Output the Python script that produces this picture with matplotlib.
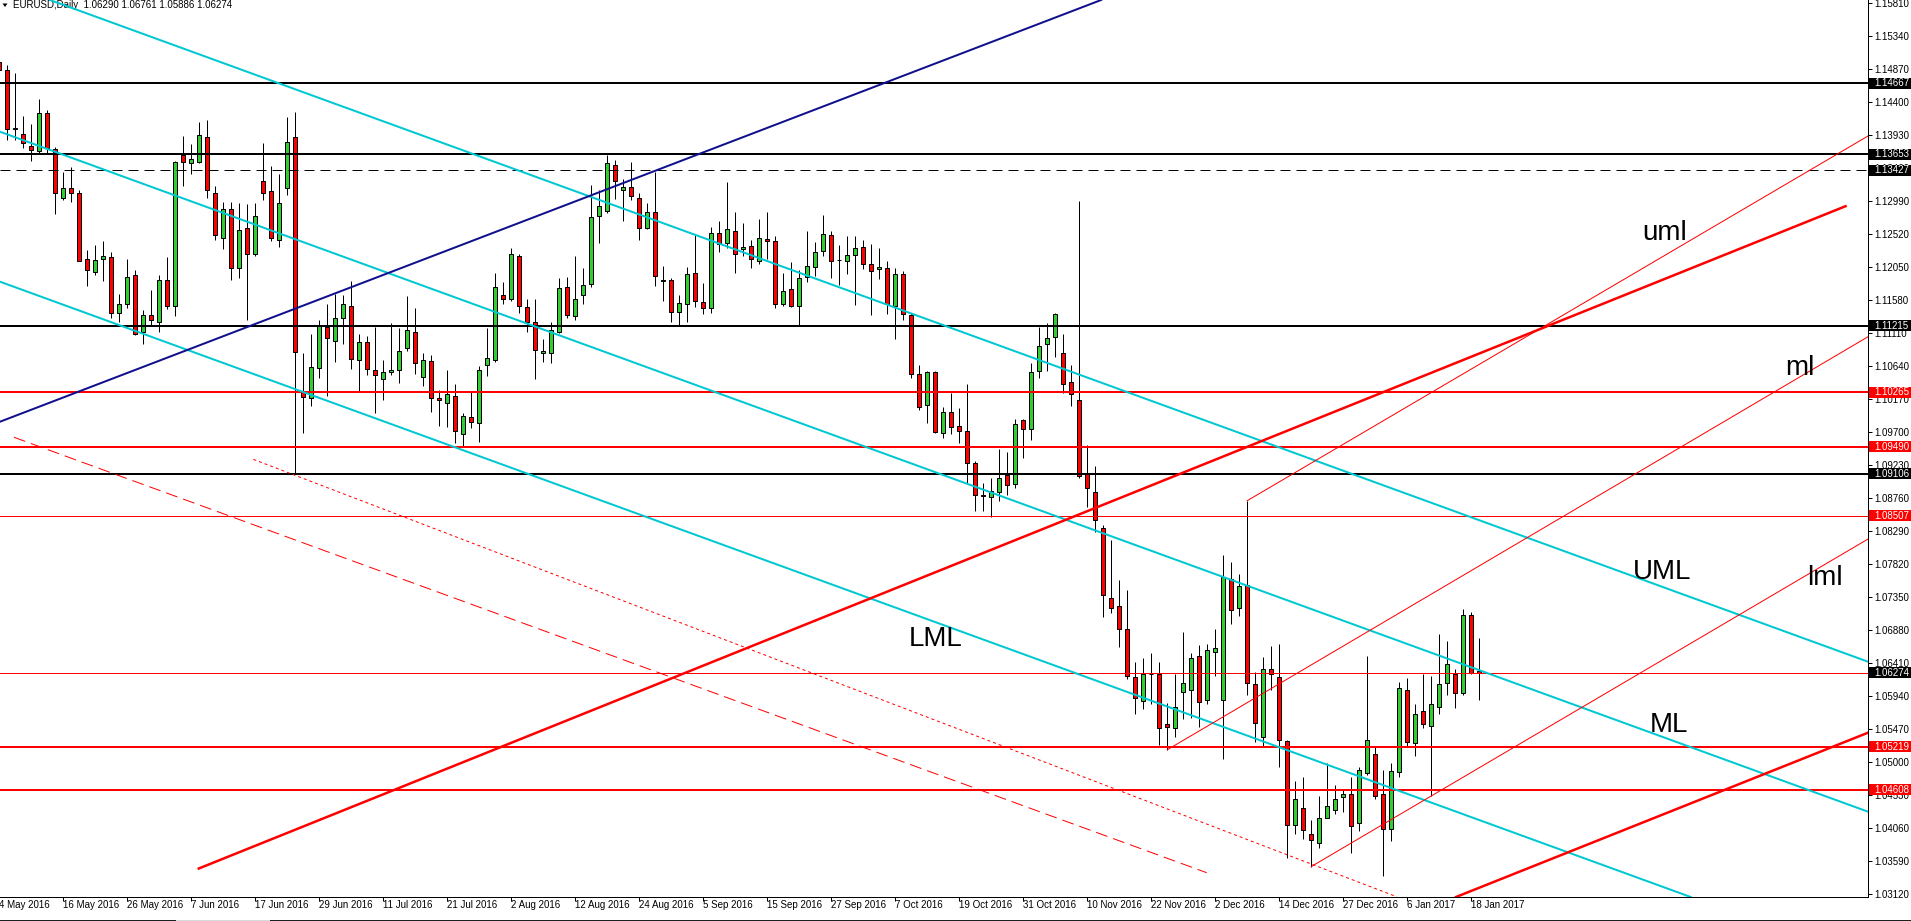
import matplotlib
matplotlib.use("Agg")
import matplotlib.pyplot as plt
import matplotlib.transforms as mtransforms
from matplotlib.patches import Rectangle, Polygon
from matplotlib.lines import Line2D

plt.rcParams['lines.scale_dashes'] = False
plt.rcParams['font.family'] = ['Liberation Sans', 'DejaVu Sans']

W, H, DPI = 1911, 921, 100
PX = 72.0 / DPI  # one pixel in points

# ---------------- data ----------------
header = "EURUSD,Daily  1.06290 1.06761 1.05886 1.06274"

opens = [1.1497, 1.1485, 1.1402, 1.1394, 1.1378, 1.1370, 1.1424, 1.1373, 1.1303, 1.1317,
         1.1310, 1.1216, 1.1198, 1.1216, 1.1219, 1.1140, 1.1153, 1.1193, 1.1112, 1.1137,
         1.1127, 1.1186, 1.1150, 1.1364, 1.1353, 1.1355, 1.1390, 1.1310, 1.1247, 1.1288,
         1.1204, 1.1260, 1.1224, 1.1327, 1.1313, 1.1244, 1.1318, 1.1390, 1.1028, 1.1018,
         1.1061, 1.1120, 1.1100, 1.1132, 1.1150, 1.1072, 1.1098, 1.1059, 1.1045, 1.1055,
         1.1059, 1.1089, 1.1113, 1.1048, 1.1071, 1.1018, 1.1012, 1.1022, 1.0967, 1.0991,
         1.0983, 1.1066, 1.1072, 1.1165, 1.1159, 1.1221, 1.1148, 1.1126, 1.1083, 1.1082,
         1.1113, 1.1177, 1.1135, 1.1165, 1.1181, 1.1278, 1.1285, 1.1350, 1.1314, 1.1319,
         1.1304, 1.1261, 1.1283, 1.1185, 1.1187, 1.1141, 1.1153, 1.1196, 1.1155, 1.1146,
         1.1253, 1.1239, 1.1256, 1.1230, 1.1235, 1.1214, 1.1245, 1.1242, 1.1153, 1.1173,
         1.1150, 1.1191, 1.1205, 1.1228, 1.1250, 1.1215, 1.1214, 1.1222, 1.1234, 1.1210,
         1.1202, 1.1203, 1.1149, 1.1195, 1.1137, 1.1052, 1.1009, 1.1056, 1.0968, 1.0998,
         1.0978, 1.0972, 1.0926, 1.0880, 1.0877, 1.0885, 1.0909, 1.0896, 1.0987, 1.0975,
         1.1057, 1.1095, 1.1105, 1.1083, 1.1041, 1.1016, 1.0910, 1.0885, 1.0834, 1.0734,
         1.0722, 1.0689, 1.0621, 1.0587, 1.0625, 1.0626, 1.0554, 1.0549, 1.0600, 1.0602,
         1.0651, 1.0589, 1.0657, 1.0589, 1.0760, 1.0719, 1.0752, 1.0611, 1.0535, 1.0632,
         1.0621, 1.0530, 1.0410, 1.0434, 1.0398, 1.0384, 1.0421, 1.0432, 1.0450, 1.0455,
         1.0413, 1.0485, 1.0512, 1.0454, 1.0404, 1.0486, 1.0603, 1.0527, 1.0573, 1.0552,
         1.0579, 1.0612, 1.0626, 1.0599, 1.0709, 1.06290]
highs = [1.1525, 1.1493, 1.1481, 1.1420, 1.1409, 1.1445, 1.1429, 1.1376, 1.1341, 1.1347,
         1.1315, 1.1229, 1.1236, 1.1242, 1.1226, 1.1166, 1.1216, 1.1201, 1.1144, 1.1172,
         1.1193, 1.1219, 1.1356, 1.1392, 1.1380, 1.1411, 1.1414, 1.1321, 1.1297, 1.1297,
         1.1296, 1.1295, 1.1296, 1.1381, 1.1349, 1.1338, 1.1419, 1.1426, 1.1082, 1.1110,
         1.1129, 1.1153, 1.1166, 1.1165, 1.1185, 1.1110, 1.1107, 1.1120, 1.1073, 1.1125,
         1.1118, 1.1164, 1.1146, 1.1083, 1.1079, 1.1030, 1.1058, 1.1039, 1.0997, 1.1028,
         1.1064, 1.1118, 1.1196, 1.1183, 1.1232, 1.1224, 1.1160, 1.1160, 1.1103, 1.1126,
         1.1189, 1.1191, 1.1221, 1.1204, 1.1322, 1.1315, 1.1365, 1.1358, 1.1330, 1.1355,
         1.1310, 1.1296, 1.1341, 1.1206, 1.1190, 1.1165, 1.1205, 1.1251, 1.1182, 1.1262,
         1.1271, 1.1326, 1.1283, 1.1267, 1.1243, 1.1273, 1.1283, 1.1249, 1.1196, 1.1212,
         1.1201, 1.1256, 1.1240, 1.1279, 1.1257, 1.1236, 1.1249, 1.1249, 1.1243, 1.1238,
         1.1232, 1.1213, 1.1203, 1.1199, 1.1140, 1.1066, 1.1057, 1.1057, 1.1006, 1.1025,
         1.1004, 1.1038, 1.0929, 1.0898, 1.0904, 1.0946, 1.0941, 1.0989, 1.0989, 1.1068,
         1.1120, 1.1125, 1.1139, 1.1109, 1.1066, 1.1299, 1.0952, 1.0922, 1.0838, 1.0816,
         1.0759, 1.0745, 1.0642, 1.0648, 1.0656, 1.0642, 1.0584, 1.0626, 1.0685, 1.0655,
         1.0666, 1.0668, 1.0689, 1.0795, 1.0785, 1.0768, 1.0872, 1.0628, 1.0650, 1.0665,
         1.0668, 1.0531, 1.0473, 1.0478, 1.0417, 1.0451, 1.0498, 1.0467, 1.0461, 1.0479,
         1.0493, 1.0651, 1.0522, 1.0489, 1.0498, 1.0614, 1.0619, 1.0583, 1.0626, 1.0622,
         1.0683, 1.0672, 1.0633, 1.0718, 1.0713, 1.06761]
lows = [1.1465, 1.1386, 1.1386, 1.1374, 1.1356, 1.1367, 1.1367, 1.1281, 1.1301, 1.1298,
        1.1213, 1.1178, 1.1194, 1.1185, 1.1132, 1.1127, 1.1147, 1.1108, 1.1096, 1.1122,
        1.1113, 1.1145, 1.1135, 1.1321, 1.1337, 1.1353, 1.1304, 1.1244, 1.1230, 1.1187,
        1.1189, 1.1130, 1.1221, 1.1300, 1.1242, 1.1234, 1.1307, 1.0911, 1.0969, 1.1007,
        1.1047, 1.1021, 1.1070, 1.1096, 1.1060, 1.1027, 1.1051, 1.0997, 1.1015, 1.1051,
        1.1040, 1.1086, 1.1052, 1.1036, 1.0999, 1.0978, 1.0977, 1.0954, 1.0950, 1.0976,
        1.0956, 1.1050, 1.1070, 1.1152, 1.1156, 1.1139, 1.1113, 1.1045, 1.1070, 1.1069,
        1.1111, 1.1133, 1.1129, 1.1153, 1.1177, 1.1239, 1.1282, 1.1302, 1.1270, 1.1301,
        1.1244, 1.1259, 1.1178, 1.1157, 1.1127, 1.1122, 1.1126, 1.1148, 1.1138, 1.1139,
        1.1227, 1.1232, 1.1197, 1.1220, 1.1203, 1.1210, 1.1216, 1.1147, 1.1149, 1.1148,
        1.1121, 1.1183, 1.1192, 1.1220, 1.1190, 1.1179, 1.1195, 1.1151, 1.1202, 1.1136,
        1.1188, 1.1138, 1.1103, 1.1129, 1.1047, 1.1001, 1.0983, 1.0969, 1.0962, 1.0967,
        1.0954, 1.0898, 1.0858, 1.0858, 1.0849, 1.0872, 1.0880, 1.0891, 1.0933, 1.0958,
        1.1047, 1.1057, 1.1077, 1.1026, 1.1007, 1.0905, 1.0863, 1.0828, 1.0707, 1.0712,
        1.0664, 1.0618, 1.0568, 1.0575, 1.0582, 1.0524, 1.0517, 1.0536, 1.0562, 1.0563,
        1.0550, 1.0583, 1.0622, 1.0504, 1.0697, 1.0708, 1.0596, 1.0529, 1.0523, 1.0602,
        1.0493, 1.0364, 1.0398, 1.0391, 1.0351, 1.0377, 1.0421, 1.0426, 1.0429, 1.0371,
        1.0402, 1.0481, 1.0448, 1.0337, 1.0387, 1.0478, 1.0522, 1.0508, 1.0548, 1.0451,
        1.0569, 1.0595, 1.0577, 1.0595, 1.0626, 1.05886]
closes = [1.1486, 1.1402, 1.1403, 1.1381, 1.1371, 1.1425, 1.1375, 1.1310, 1.1318, 1.1310,
          1.1214, 1.1201, 1.1215, 1.1220, 1.1139, 1.1153, 1.1191, 1.1110, 1.1136, 1.1130,
          1.1186, 1.1150, 1.1354, 1.1354, 1.1359, 1.1393, 1.1315, 1.1251, 1.1288, 1.1204,
          1.1258, 1.1224, 1.1278, 1.1311, 1.1246, 1.1296, 1.1383, 1.1084, 1.1020, 1.1063,
          1.1121, 1.1104, 1.1133, 1.1152, 1.1074, 1.1098, 1.1060, 1.1051, 1.1055, 1.1059,
          1.1086, 1.1116, 1.1068, 1.1073, 1.1019, 1.1015, 1.1024, 1.0972, 1.0993, 1.0984,
          1.1058, 1.1075, 1.1177, 1.1160, 1.1223, 1.1149, 1.1127, 1.1087, 1.1086, 1.1116,
          1.1175, 1.1137, 1.1160, 1.1180, 1.1276, 1.1292, 1.1353, 1.1327, 1.1319, 1.1306,
          1.1261, 1.1283, 1.1192, 1.1187, 1.1141, 1.1154, 1.1195, 1.1157, 1.1147, 1.1254,
          1.1238, 1.1259, 1.1224, 1.1233, 1.1217, 1.1247, 1.1242, 1.1152, 1.1171, 1.1149,
          1.1189, 1.1207, 1.1226, 1.1252, 1.1214, 1.1215, 1.1222, 1.1232, 1.1209, 1.1200,
          1.1205, 1.1152, 1.1195, 1.1138, 1.1052, 1.1005, 1.1055, 1.0970, 1.0998, 1.0977,
          1.0972, 1.0926, 1.0880, 1.0879, 1.0886, 1.0905, 1.0894, 1.0981, 1.0975, 1.1056,
          1.1093, 1.1104, 1.1138, 1.1039, 1.1024, 1.0907, 1.0891, 1.0845, 1.0738, 1.0720,
          1.0689, 1.0622, 1.0591, 1.0626, 1.0625, 1.0548, 1.0550, 1.0579, 1.0613, 1.0648,
          1.0586, 1.0659, 1.0663, 1.0763, 1.0716, 1.0751, 1.0613, 1.0555, 1.0633, 1.0625,
          1.0532, 1.0411, 1.0447, 1.0403, 1.0389, 1.0421, 1.0437, 1.0447, 1.0455, 1.0409,
          1.0488, 1.0532, 1.0452, 1.0404, 1.0487, 1.0605, 1.0529, 1.0569, 1.0554, 1.0582,
          1.0611, 1.0640, 1.0599, 1.0710, 1.0627, 1.06274]

date_tick_bars = [0, 8, 16, 24, 32, 40, 48, 56, 64, 72, 80, 88, 96, 104, 112, 120,
                  128, 136, 144, 152, 160, 168, 176, 184]
date_tick_labels = ["4 May 2016", "16 May 2016", "26 May 2016", "7 Jun 2016", "17 Jun 2016",
                    "29 Jun 2016", "11 Jul 2016", "21 Jul 2016", "2 Aug 2016", "12 Aug 2016",
                    "24 Aug 2016", "5 Sep 2016", "15 Sep 2016", "27 Sep 2016", "7 Oct 2016",
                    "19 Oct 2016", "31 Oct 2016", "10 Nov 2016", "22 Nov 2016", "2 Dec 2016",
                    "14 Dec 2016", "27 Dec 2016", "6 Jan 2017", "18 Jan 2017"]

price_ticks = [1.15810, 1.15340, 1.14870, 1.14400, 1.13930, 1.13460, 1.12990, 1.12520,
               1.12050, 1.11580, 1.11110, 1.10640, 1.10170, 1.09700, 1.09230, 1.08760,
               1.08290, 1.07820, 1.07350, 1.06880, 1.06410, 1.05940, 1.05470, 1.05000,
               1.04530, 1.04060, 1.03590, 1.03120]

level_prices = [1.14667, 1.13653, 1.13427, 1.11215, 1.10265, 1.09490, 1.09106,
                1.08507, 1.06274, 1.05219, 1.04608]
level_colors = ['black', 'black', 'black', 'black', 'red', 'red', 'black',
                'red', 'red', 'red', 'red']
level_box_colors = ['black', 'black', 'black', 'black', 'red', 'red', 'black',
                    'red', 'black', 'red', 'red']
level_width_px = [2, 2, 1, 2, 2, 2, 2, 1, 1, 2, 2]
level_dashed = [False, False, True, False, False, False, False, False, False, False, False]

# trend lines: anchor points (bar index, price)
cyan_upper = [(6.41, 1.15853), (233.66, 1.06429)]
cyan_median = [(0.16, 1.13977), (233.66, 1.04293)]
cyan_lower = [(0.16, 1.11841), (211.40, 1.03082)]
blue_line = [(0.16, 1.09847), (137.80, 1.15853)]
red_median_thick = [(24.86, 1.03477), (231.00, 1.12923)]
red_lower_thick = [(182.25, 1.03082), (233.66, 1.05418)]
red_uml_thin = [(156.0, 1.08718), (233.66, 1.13916)]
red_ml_thin = [(146.0, 1.05170), (233.66, 1.11057)]
red_lml_thin = [(164.0, 1.03507), (233.66, 1.08176)]
red_dashed = [(1.91, 1.09625), (151.0, 1.03424)]
red_dotted = [(31.83, 1.09311), (174.75, 1.03082)]

line_names = ["uml", "ml", "UML", "lml", "ML", "LML"]
line_name_bars = [205.5, 223.3, 204.25, 226.0, 206.4, 113.7]
line_name_prices = [1.12435, 1.10512, 1.07607, 1.07521, 1.05428, 1.06652]

x_range = (0.1625, 233.66)
y_range = (1.03078, 1.15853)

# ---------------- figure ----------------
fig = plt.figure(figsize=(W / DPI, H / DPI), dpi=DPI, facecolor='white')
ax = fig.add_axes([0, 24 / H, 1868 / W, 897 / H])
ax.set_facecolor('white')
ax.set_xlim(*x_range)
ax.set_ylim(*y_range)

for s in ['top', 'left']:
    ax.spines[s].set_visible(False)
for s in ['right', 'bottom']:
    ax.spines[s].set_color('black')
    ax.spines[s].set_linewidth(PX)

# candles
bars = list(range(len(opens)))
body_colors = []
for o, c in zip(opens, closes):
    if c > o:
        body_colors.append('#32CD32')
    elif c < o:
        body_colors.append('#FF0000')
    else:
        body_colors.append('black')
ax.vlines(bars, lows, highs, colors='black', linewidth=PX, zorder=2)
bottoms = [min(o, c) for o, c in zip(opens, closes)]
heights = [abs(c - o) for o, c in zip(opens, closes)]
ax.bar(bars, heights, width=0.5, bottom=bottoms, color=body_colors,
       edgecolor='black', linewidth=PX, zorder=2.2)

# horizontal levels
for p, col, wpx, dsh in zip(level_prices, level_colors, level_width_px, level_dashed):
    ls = (0, (10 * PX, 6 * PX)) if dsh else '-'
    ax.axhline(p, color=col, linewidth=wpx * PX, linestyle=ls, zorder=3)


def seg(pts, color, wpx, ls='-', mode='segment'):
    (k1, p1), (k2, p2) = pts
    if mode == 'infinite':
        ax.axline((k1, p1), (k2, p2), color=color, linewidth=wpx * PX, linestyle=ls, zorder=3)
        return
    if mode == 'ray':
        slope = (p2 - p1) / (k2 - k1)
        k2e = x_range[1] + 10
        p2 = p1 + slope * (k2e - k1)
        k2 = k2e
    ax.plot([k1, k2], [p1, p2], color=color, linewidth=wpx * PX, linestyle=ls, zorder=3,
            solid_capstyle='butt')


seg(cyan_upper, '#00C8D2', 2, mode='infinite')
seg(cyan_median, '#00C8D2', 2, mode='infinite')
seg(cyan_lower, '#00C8D2', 2, mode='infinite')
seg(blue_line, '#10108C', 2, mode='infinite')
seg(red_median_thick, '#FF0000', 2.5)
seg(red_lower_thick, '#FF0000', 2.5, mode='infinite')
seg(red_uml_thin, '#FF0000', 1, mode='ray')
seg(red_ml_thin, '#FF0000', 1, mode='ray')
seg(red_lml_thin, '#FF0000', 1, mode='ray')
seg(red_dashed, '#FF0000', 1, ls=(0, (12 * PX, 6 * PX)))
seg(red_dotted, '#FF0000', 1, ls=(0, (3 * PX, 3 * PX)))

# line names
for name, kb, pr in zip(line_names, line_name_bars, line_name_prices):
    ax.text(kb, pr, name, fontsize=20, color='black', ha='left', va='baseline',
            family=['Liberation Sans', 'DejaVu Sans'], zorder=4)

# price axis
ax.yaxis.tick_right()
ax.set_yticks(price_ticks)
ax.set_yticklabels([f"{v:.5f}" for v in price_ticks])
ax.tick_params(axis='y', which='both', right=True, left=False, labelright=True,
               labelleft=False, length=4 * PX, width=PX, pad=2 * PX, labelsize=7,
               colors='black')

# date axis: ticks + labels
visible_ticks = [k for k in date_tick_bars if k >= x_range[0]]
ax.set_xticks(visible_ticks)
ax.set_xticklabels([])
ax.tick_params(axis='x', length=3.5 * PX, width=PX, colors='black')
xform = mtransforms.blended_transform_factory(ax.transData, ax.transAxes)
off = mtransforms.ScaledTranslation(0.5 / DPI, -3 / DPI, fig.dpi_scale_trans)
for k, lbl in zip(date_tick_bars, date_tick_labels):
    ax.text(k, 0, lbl, transform=xform + off, fontsize=7, ha='left', va='top',
            clip_on=False)

# level boxes on the price axis
bt = mtransforms.blended_transform_factory(fig.transFigure, ax.transData)
half_h = 5.5 * (y_range[1] - y_range[0]) / 897
for p, bc in zip(level_prices, level_box_colors):
    r = Rectangle((1869 / W, p - half_h), (W - 1869) / W, 2 * half_h, transform=bt,
                  facecolor=bc, edgecolor='none', clip_on=False, zorder=10)
    ax.add_patch(r)
    ax.text(1874 / W, p, f"{p:.5f}", transform=bt, color='white', fontsize=7,
            ha='left', va='center', clip_on=False, zorder=11)

# header
ax.text(13 / 1868, 1 - 5.5 / 897, header, transform=ax.transAxes, fontsize=7,
        ha='left', va='center', zorder=1)
tri = Polygon([(2.5 / W, 1 - 3.5 / H), (7.5 / W, 1 - 3.5 / H), (5 / W, 1 - 7 / H)],
              closed=True, transform=fig.transFigure, facecolor='black', edgecolor='none')
fig.add_artist(tri)

# bottom tab bar separator
yb = 1 - 919.5 / H
fig.add_artist(Line2D([0, 176 / W], [yb, yb], transform=fig.transFigure, color='#202020', lw=PX))
fig.add_artist(Line2D([176 / W, 270 / W], [yb, yb], transform=fig.transFigure, color='#d8d8d8', lw=PX))
fig.add_artist(Line2D([270 / W, 1], [yb, yb], transform=fig.transFigure, color='#202020', lw=PX))

fig.savefig("out.png", dpi=DPI, facecolor='white')
